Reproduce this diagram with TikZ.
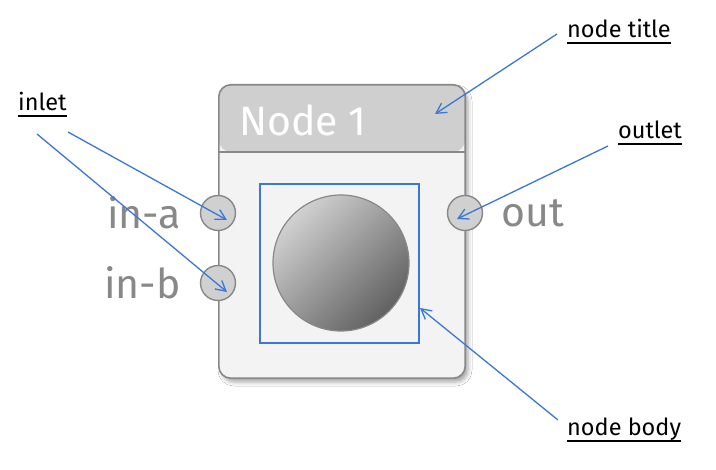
\documentclass[tikz,border=0pt]{standalone}
\usepackage{fontspec}
\setmainfont{Fira Sans}
\usetikzlibrary{arrows.meta,shadows.blur}
\definecolor{frameline}{HTML}{888888}
\definecolor{titlefill}{HTML}{CFCFCF}
\definecolor{bodyfill}{HTML}{F3F3F3}
\definecolor{pinfill}{HTML}{D0D0D0}
\definecolor{callout}{HTML}{3A78D8}
\definecolor{pintext}{HTML}{888888}
\tikzset{
  framebox/.style={fill=bodyfill, rounded corners=12pt,
    minimum width=246pt, minimum height=293pt, inner sep=0pt,
    blur shadow={shadow xshift=3pt, shadow yshift=-4pt, shadow blur radius=4pt, shadow opacity=35},
    path picture={\fill[titlefill] (path picture bounding box.north west) rectangle ([yshift=-67pt]path picture bounding box.north east);}},
  frameborder/.style={draw=frameline, line width=1.6pt, rounded corners=12pt},
  pin/.style={circle, draw=frameline, line width=1.4pt, fill=pinfill, minimum size=35pt, inner sep=0pt},
  pinlabel/.style={text=pintext, font=\fontsize{41}{46}\selectfont, inner sep=0pt},
  titletext/.style={text=white, font=\fontsize{41}{48}\selectfont, inner sep=0pt},
  calloutline/.style={draw=callout, line width=1.3pt, -{Straight Barb[length=10pt,width=11pt,line width=1.3pt]}},
  calloutlabel/.style={font=\fontsize{23.5}{28}\selectfont, inner sep=0pt},
  ul/.style={line width=2pt, black},
  bodybox/.style={draw=callout, line width=1.5pt, minimum width=159pt, minimum height=159pt, inner sep=0pt},
  ball/.style={circle, draw=frameline, line width=1.2pt, minimum size=136pt, inner sep=0pt,
    shading=axis, top color=black!18, bottom color=black!62, shading angle=45}
}
\begin{document}
\begin{tikzpicture}[x=1pt,y=-1pt]
\useasboundingbox[fill=white] (0,0) rectangle (716,470);
% node frame
\node[framebox] (frame) at (342,231.5) {};
\draw[frameborder] (frame.north west) rectangle (frame.south east);
\draw[frameline, line width=1.6pt] (219,152) coordinate (sepL) -- (465,152) coordinate (sepR);
\node[titletext, anchor=base west] (title) at (239,136) {Node 1};
% body
\node[bodybox] (body) at (339.5,263.5) {};
\node[ball] (knob) at (341,263) {};
% pins
\node[pin] (ina) at (218,213) {};
\node[pin] (inb) at (218,283) {};
\node[pin] (outp) at (465,213) {};
\node[pinlabel, anchor=east] (lina) at (181,213) {in-a};
\node[pinlabel, anchor=east] (linb) at (181,283) {in-b};
\node[pinlabel, anchor=west] (lout) at (501,213) {out};
% callout labels
\node[calloutlabel, anchor=base west] (lt) at (567,38) {node title};
\node[calloutlabel, anchor=base west] (li) at (18,111) {inlet};
\node[calloutlabel, anchor=base west] (lo) at (618,139) {outlet};
\node[calloutlabel, anchor=base west] (lb) at (567,436) {node body};
\foreach \n in {lt,li,lo,lb}
  \draw[ul] ([yshift=-5pt]\n.base west) -- ([yshift=-5pt]\n.base east);
% callout ends
\coordinate (st) at (557,34);
\coordinate (tt) at (435,114);
\coordinate (sa) at (68,132);
\coordinate (ta) at (227,220);
\coordinate (sb) at (37,134);
\coordinate (tb) at (227,292);
\coordinate (so) at (608,146);
\coordinate (to) at (457,219);
\coordinate (sbd) at (558,420);
\coordinate (tbd) at (420,308);
\draw[calloutline] (st) -- (tt);
\draw[calloutline] (sa) -- (ta);
\draw[calloutline] (sb) -- (tb);
\draw[calloutline] (so) -- (to);
\draw[calloutline] (sbd) -- (tbd);
\end{tikzpicture}
\end{document}
